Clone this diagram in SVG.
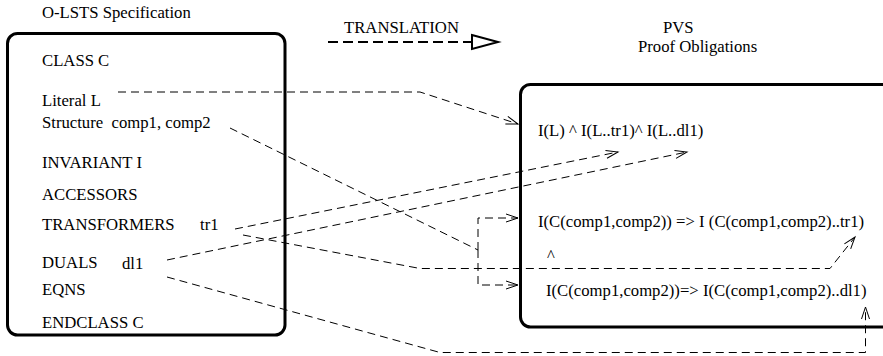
<svg xmlns="http://www.w3.org/2000/svg" width="883" height="356" viewBox="0 0 883 356">
<style>
text{font-family:"Liberation Serif","Times New Roman",serif;font-size:16.7px;fill:#000}
.box{fill:none;stroke:#000;stroke-width:3}
.c{fill:none;stroke:#000;stroke-width:1;stroke-dasharray:8 5}
</style>
<defs>
<marker id="ah" markerUnits="userSpaceOnUse" markerWidth="16" markerHeight="12" refX="13" refY="5" orient="auto" overflow="visible">
<path d="M1,1 L13,5 L1,9" fill="none" stroke="#000" stroke-width="1"/>
</marker>
</defs>
<rect width="883" height="356" fill="#fff"/>
<text x="42" y="18">O-LSTS Specification</text>
<g id="translation">
<text x="344" y="33">TRANSLATION</text>
<path d="M328,42 L472,42" fill="none" stroke="#000" stroke-width="2" stroke-dasharray="10 5"/>
<path d="M472,35 L498,42 L472,49 Z" fill="#fff" stroke="#000" stroke-width="2"/>
</g>
<text x="663" y="33">PVS</text>
<text x="638" y="52">Proof Obligations</text>
<g id="connectors">
<path class="c" d="M118,92 L420,92 L518,124" marker-end="url(#ah)"/>
<path class="c" d="M230,128 L478,250"/>
<path class="c" d="M478,250 L478,218 L518,218" marker-end="url(#ah)"/>
<path class="c" d="M478,250 L478,285 L518,285" marker-end="url(#ah)"/>
<path class="c" d="M235,229 L618,152" marker-end="url(#ah)"/>
<path class="c" d="M167,260 L687,152" marker-end="url(#ah)"/>
<path class="c" d="M243,235 L420,268.5 L830,268.5 L855,237" marker-end="url(#ah)"/>
<path class="c" d="M167,277 L440,352.5 L865.5,352.5 L865.5,307" marker-end="url(#ah)"/>
</g>
<g id="oLSTS">
<rect class="box" x="7.5" y="33.5" width="277.5" height="301.5" rx="10"/>
<text x="42" y="66">CLASS C</text>
<text x="42" y="106">Literal L</text>
<text x="42" y="128" xml:space="preserve">Structure  comp1, comp2</text>
<text x="42" y="168">INVARIANT I</text>
<text x="42" y="200">ACCESSORS</text>
<text x="42" y="230">TRANSFORMERS</text>
<text x="200" y="230">tr1</text>
<text x="42" y="268">DUALS</text>
<text x="122" y="269">dl1</text>
<text x="42" y="295">EQNS</text>
<text x="42" y="328">ENDCLASS C</text>
</g>
<g id="pvs">
<rect class="box" x="520.5" y="84.5" width="400" height="242.5" rx="10"/>
<text x="538" y="136">I(L) ^ I(L..tr1)^ I(L..dl1)</text>
<text x="538" y="227">I(C(comp1,comp2)) =&gt; I (C(comp1,comp2)..tr1)</text>
<text x="547" y="261">^</text>
<text x="546" y="296">I(C(comp1,comp2))=&gt; I(C(comp1,comp2)..dl1)</text>
</g>
</svg>
